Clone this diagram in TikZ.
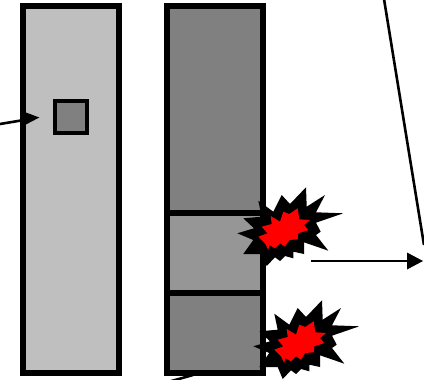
\documentclass[tikz,border=0pt]{standalone}
\tikzset{
  panel/.style={draw=black,line width=6pt,miter limit=10,inner sep=0pt,outer sep=0pt,anchor=north west,minimum width=96pt},
  link/.style={draw=black,line width=2.6pt},
  head/.style={fill=black,draw=none},
  burst/.style={fill=black,draw=none},
  flame/.style={fill=red,draw=none},
}
\newcommand{\outerburst}{(343.3,213.3) -- (316,222.7) -- (320.7,231.7) -- (316,235) -- (328.3,250.7) -- (304,242.3) -- (304,254) -- (293.3,251.7) -- (293.3,258.3) -- (285,256) -- (280,261) -- (275,257.3) -- (266.7,266) -- (261.7,254) -- (243.3,254) -- (253.3,240) -- (237.3,233.3) -- (254,228.3) -- (243.3,218.3) -- (261.7,216.7) -- (258.3,200.7) -- (273.3,211.7) -- (281.7,195) -- (290,204) -- (306,187.3) -- (306.7,206.7) -- (325,195) -- (316,212.3) -- cycle}
\newcommand{\innerflame}{(297.7,208.3) -- (299.3,219.3) -- (310,220) -- (304,225) -- (308.3,230) -- (298.3,233.3) -- (297.7,239.3) -- (289.3,240) -- (285,246.7) -- (280,243.3) -- (275,248.3) -- (269.3,245) -- (268.3,250) -- (265,243.3) -- (258.3,236.7) -- (267.3,233.3) -- (261.7,226.7) -- (271.7,224) -- (270.7,216) -- (280,221.7) -- (283.3,211.7) -- (289.3,214) -- cycle}
\begin{document}
\begin{tikzpicture}[x=1pt,y=-1pt]
\useasboundingbox (0,0) rectangle (424,380);
\fill[white] (0,0) rectangle (424,380);
% left column
\node[panel,fill=black!25,minimum height=367pt] (leftcol) at (23,6) {};
\node[panel,fill=black!50,line width=4pt,anchor=center,minimum width=32pt,minimum height=32pt] (chip) at (71,117) {};
% right column
\node[panel,fill=black!50,minimum height=207pt] (seg1) at (167,6) {};
\node[panel,fill=black!41,minimum height=80pt] (seg2) at (167,213) {};
\node[panel,fill=black!50,minimum height=80pt] (seg3) at (167,293) {};
% bursts
\fill[burst] \outerburst;
\fill[flame] \innerflame;
\begin{scope}[shift={(16,113)}]
\fill[burst] \outerburst;
\fill[flame] \innerflame;
\end{scope}
% connectors
\coordinate (a0) at (0,124); \coordinate (a1) at (27,119.5);
\draw[link] (a0) -- (a1);
\fill[head] (39.3,117.5) -- (22,111) -- (24,125.5) -- cycle;
\coordinate (b0) at (384,-1); \coordinate (b1) at (424,245);
\draw[link] (b0) -- (b1);
\coordinate (c0) at (311,261); \coordinate (c1) at (410,261);
\draw[link] (c0) -- (c1);
\fill[head] (423,261) -- (407,252.5) -- (407,269.5) -- cycle;
\coordinate (d0) at (168,382); \coordinate (d1) at (193,375);
\draw[link] (d0) -- (d1);
\end{tikzpicture}
\end{document}
